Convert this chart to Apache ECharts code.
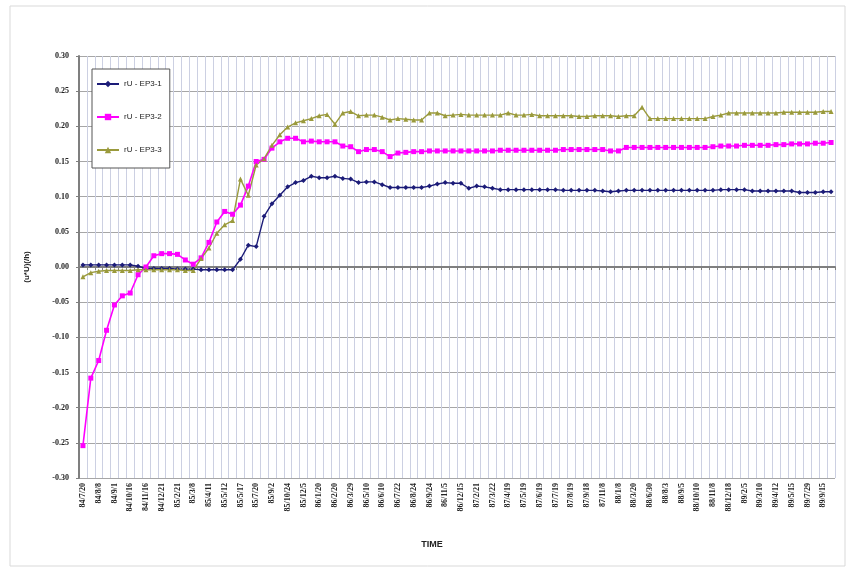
<!DOCTYPE html>
<html>
<head>
<meta charset="utf-8">
<script src="https://cdn.jsdelivr.net/npm/echarts@6/dist/echarts.min.js"></script>
<style>
html,body{margin:0;padding:0;background:#fff;}
#chart{width:855px;height:569px;}
</style>
</head>
<body>
<div id="chart"></div>
<script>
const categories = [
"84/7/20","84/7/28","84/8/8","84/8/20","84/9/1","84/9/20","84/10/16","84/11/1","84/11/16","84/12/5",
"84/12/21","85/1/20","85/2/21","85/3/1","85/3/8","85/3/25","85/4/11","85/4/25","85/5/12","85/5/14",
"85/5/17","85/6/20","85/7/20","85/8/10","85/9/2","85/10/1","85/10/24","85/11/15","85/12/5","85/12/28",
"86/1/20","86/2/5","86/2/20","86/3/10","86/3/29","86/4/20","86/5/10","86/5/25","86/6/10","86/7/1",
"86/7/22","86/8/8","86/8/24","86/9/10","86/9/24","86/10/15","86/11/5","86/11/25","86/12/15","87/1/20",
"87/2/21","87/3/8","87/3/22","87/4/5","87/4/19","87/5/5","87/5/19","87/6/5","87/6/19","87/7/5",
"87/7/19","87/8/5","87/8/19","87/9/5","87/9/18","87/10/15","87/11/8","87/12/8","88/1/8","88/2/15",
"88/3/20","88/5/10","88/6/30","88/7/15","88/8/3","88/8/20","88/9/5","88/9/20","88/10/10","88/10/25",
"88/11/8","88/11/28","88/12/18","89/1/10","89/2/5","89/2/20","89/3/10","89/3/25","89/4/12","89/4/28",
"89/5/15","89/6/15","89/7/29","89/8/20","89/9/15","89/10/14"
];
const seriesNames = ["rU - EP3-1","rU - EP3-2","rU - EP3-3"];
const ep1 = [
0.003,0.003,0.003,0.003,0.003,0.003,0.003,0.001,-0.002,-0.002,
-0.002,-0.002,-0.003,-0.003,-0.003,-0.004,-0.004,-0.004,-0.004,-0.004,
0.011,0.031,0.029,0.072,0.090,0.102,0.114,0.120,0.123,0.129,
0.127,0.127,0.129,0.126,0.125,0.120,0.121,0.121,0.117,0.113,
0.113,0.113,0.113,0.113,0.115,0.118,0.120,0.119,0.119,0.112,
0.115,0.114,0.112,0.110,0.110,0.110,0.110,0.110,0.110,0.110,
0.110,0.109,0.109,0.109,0.109,0.109,0.108,0.107,0.108,0.109,
0.109,0.109,0.109,0.109,0.109,0.109,0.109,0.109,0.109,0.109,
0.109,0.110,0.110,0.110,0.110,0.108,0.108,0.108,0.108,0.108,
0.108,0.106,0.106,0.106,0.107,0.107
];
const ep2 = [
-0.254,-0.158,-0.133,-0.090,-0.054,-0.041,-0.037,-0.011,0.000,0.016,
0.019,0.019,0.018,0.010,0.004,0.013,0.035,0.064,0.079,0.075,
0.088,0.115,0.150,0.153,0.169,0.178,0.183,0.183,0.178,0.179,
0.178,0.178,0.178,0.172,0.171,0.164,0.167,0.167,0.164,0.157,
0.162,0.163,0.164,0.164,0.165,0.165,0.165,0.165,0.165,0.165,
0.165,0.165,0.165,0.166,0.166,0.166,0.166,0.166,0.166,0.166,
0.166,0.167,0.167,0.167,0.167,0.167,0.167,0.165,0.165,0.170,
0.170,0.170,0.170,0.170,0.170,0.170,0.170,0.170,0.170,0.170,
0.171,0.172,0.172,0.172,0.173,0.173,0.173,0.173,0.174,0.174,
0.175,0.175,0.175,0.176,0.176,0.177
];
const ep3 = [
-0.014,-0.008,-0.006,-0.005,-0.005,-0.005,-0.005,-0.004,-0.004,-0.004,
-0.004,-0.004,-0.004,-0.005,-0.005,0.012,0.027,0.048,0.060,0.066,
0.125,0.102,0.145,0.154,0.173,0.188,0.199,0.205,0.208,0.211,
0.215,0.217,0.203,0.219,0.221,0.215,0.216,0.216,0.213,0.209,
0.211,0.210,0.209,0.209,0.219,0.219,0.215,0.216,0.217,0.216,
0.216,0.216,0.216,0.216,0.219,0.216,0.216,0.217,0.215,0.215,
0.215,0.215,0.215,0.214,0.214,0.215,0.215,0.215,0.214,0.215,
0.215,0.227,0.211,0.211,0.211,0.211,0.211,0.211,0.211,0.211,
0.214,0.216,0.219,0.219,0.219,0.219,0.219,0.219,0.219,0.220,
0.220,0.220,0.220,0.220,0.221,0.221
];
const yTicks = {min:-0.30, max:0.30, step:0.05};

const serif = "'Liberation Serif','DejaVu Serif',serif";
const chart = echarts.init(document.getElementById('chart'));
const mk = (name, data, color, symbol, width, size) => ({
  name, type:'line', data, symbol, symbolSize:size,
  lineStyle:{color, width}, itemStyle:{color, borderWidth:0},
  showSymbol:true, showAllSymbol:true, animation:false
});
chart.setOption({
  animation:false,
  backgroundColor:'#ffffff',
  graphic:[{type:'rect', shape:{x:10,y:6,width:835,height:560},
    style:{fill:'none', stroke:'#d9d9d9', lineWidth:1}, silent:true}],
  grid:{left:79, right:20, top:56, bottom:91, containLabel:false},
  legend:{
    orient:'vertical', left:92, top:69,
    backgroundColor:'#ffffff', borderColor:'#555', borderWidth:1,
    padding:[11,8,14,4], itemGap:25, itemWidth:22, itemHeight:8,
    textStyle:{fontFamily:"'Liberation Sans',Arial,sans-serif", fontSize:8, color:'#222'},
    data:seriesNames
  },
  xAxis:{
    type:'category', data:categories, boundaryGap:true,
    name:'TIME', nameLocation:'middle', nameGap:62,
    nameTextStyle:{fontFamily:"'Liberation Sans',Arial,sans-serif", fontWeight:'bold', fontSize:9, color:'#222', padding:[0,50,0,0]},
    axisLine:{lineStyle:{color:'#7f7f7f', width:2}},
    axisTick:{show:true, interval:0, length:3, lineStyle:{color:'#7f7f7f'}},
    axisLabel:{interval:1, rotate:90, margin:5, fontFamily:serif, fontWeight:'bold', fontSize:8, color:'#222'},
    splitLine:{show:true, interval:0, lineStyle:{color:'#ccd0e2', width:1}}
  },
  yAxis:{
    type:'value', min:yTicks.min, max:yTicks.max, interval:yTicks.step,
    name:'(u*U)(/h)', nameLocation:'middle', nameGap:48, nameRotate:90,
    nameTextStyle:{fontFamily:"'Liberation Sans',Arial,sans-serif", fontWeight:'bold', fontSize:8, color:'#222'},
    axisLine:{show:true, lineStyle:{color:'#7f7f7f', width:2}},
    axisTick:{show:true, length:3, lineStyle:{color:'#7f7f7f'}},
    axisLabel:{margin:10, fontFamily:serif, fontWeight:'bold', fontSize:8, color:'#222',
      formatter:v=>v.toFixed(2)},
    splitLine:{show:true, lineStyle:{color:'#a6a6a6', width:1}}
  },
  series:[
    mk(seriesNames[0], ep1, '#1c1c78', 'diamond', 1.4, 5),
    mk(seriesNames[1], ep2, '#ff00ff', 'rect', 1.6, 5),
    mk(seriesNames[2], ep3, '#9a9a3c', 'triangle', 1.4, 5)
  ]
});
</script>
</body>
</html>
